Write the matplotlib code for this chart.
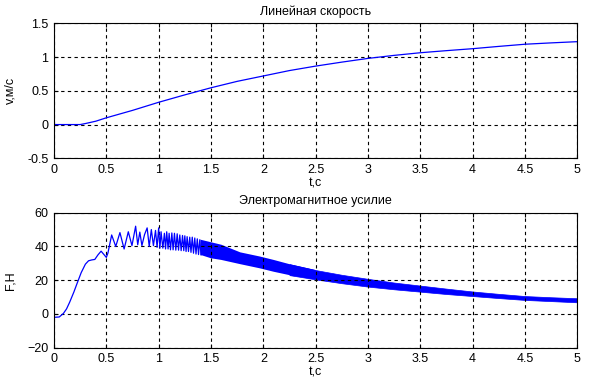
import numpy as np
import matplotlib.pyplot as plt

plt.rcParams['font.family'] = ['Liberation Sans', 'DejaVu Sans']
plt.rcParams['hatch.linewidth'] = 1.3

# linear speed
t_v = [0.0, 0.25, 0.3, 0.4, 0.5, 0.75, 1.0, 1.25, 1.5, 1.75, 2.0, 2.25, 2.5,
       2.75, 3.0, 3.25, 3.5, 3.75, 4.0, 4.25, 4.5, 4.75, 5.0]
v = [0.0, 0.0, 0.015, 0.05, 0.10, 0.21, 0.33, 0.44, 0.545, 0.64, 0.72, 0.80, 0.866,
     0.925, 0.98, 1.025, 1.064, 1.095, 1.124, 1.158, 1.19, 1.21, 1.228]

# electromagnetic force, start-up and resolvable oscillations
t_f = [0.0, 0.05, 0.09, 0.12, 0.15, 0.19, 0.22, 0.26, 0.30, 0.33, 0.36, 0.39,
       0.42, 0.45, 0.48, 0.50, 0.515, 0.551, 0.59, 0.63, 0.67, 0.71, 0.745,
       0.78, 0.80, 0.82, 0.84, 0.865, 0.89, 0.91, 0.93, 0.95, 0.97, 0.985,
       1.0, 1.012, 1.023, 1.04, 1.055, 1.066, 1.077, 1.09, 1.10, 1.113, 1.126,
       1.138, 1.151, 1.164, 1.177, 1.19, 1.202, 1.215, 1.228, 1.24, 1.25,
       1.262, 1.272, 1.285, 1.297, 1.309, 1.321, 1.333, 1.345, 1.357, 1.369,
       1.381, 1.393, 1.405]
F = [-2.0, -1.8, 0.3, 3.0, 7.0, 13.0, 18.0, 24.5, 29.5, 31.5, 32.0, 32.3,
     35.0, 37.2, 35.0, 33.5, 36.0, 46.8, 40.0, 48.2, 38.5, 48.7, 40.5,
     52.0, 41.0, 48.5, 40.5, 47.0, 51.0, 40.0, 50.0, 40.5, 49.5, 39.5,
     51.0, 39.0, 48.7, 39.0, 47.8, 38.5, 48.7, 38.5, 47.8, 38.0, 48.0,
     38.0, 47.8, 37.8, 47.5, 37.8, 46.8, 37.5, 46.5, 37.5, 46.3,
     37.0, 45.8, 37.0, 45.5, 36.5, 45.5, 36.0, 45.0, 35.5, 44.5,
     35.2, 44.0, 35.0]

# dense oscillation band: upper and lower envelope
t_band = [1.4, 1.5, 1.6, 1.78, 1.97, 2.1, 2.25, 2.5, 2.75, 3.0, 3.25,
          3.5, 3.75, 4.0, 4.25, 4.5, 4.75, 5.0]
F_up = [44.0, 42.5, 41.0, 36.5, 34.0, 32.0, 29.5, 26.0, 23.2, 20.8, 18.6,
        16.8, 15.0, 13.3, 11.9, 10.6, 9.9, 9.3]
F_lo = [35.0, 33.0, 32.0, 29.5, 27.0, 25.0, 23.0, 20.5, 18.2, 16.2, 14.6,
        13.2, 11.8, 10.6, 9.4, 8.3, 7.6, 6.9]

blue = (0, 0, 1)
fs = 9
fig = plt.figure(figsize=(5.96, 3.79), dpi=100)
ax1 = fig.add_axes([0.0906, 0.5823, 0.878, 0.3562])
ax2 = fig.add_axes([0.0906, 0.0826, 0.878, 0.3562])

ax1.plot(t_v, v, color=blue, lw=0.9)
ax1.set_ylim(-0.5, 1.5)
ax1.set_yticks([-0.5, 0, 0.5, 1, 1.5])
ax1.set_yticklabels(['-0.5', '0', '0.5', '1', '1.5'])
ax1.set_title('Линейная скорость', fontsize=fs, pad=6)
ax1.set_ylabel('v,м/c', fontsize=fs, labelpad=8)

ax2.plot(t_f, F, color=blue, lw=0.9)
# bars still separate up to about t=2.3, solid band after that
tb = np.array(t_band)
split = tb <= 2.5
ax2.fill_between(tb[split], np.array(F_lo)[split], np.array(F_up)[split],
                 facecolor='white', edgecolor=blue, hatch='|' * 12, lw=0)
ax2.fill_between(tb[tb >= 2.25], np.array(F_lo)[tb >= 2.25], np.array(F_up)[tb >= 2.25],
                 color=blue, lw=0.5)
ax2.set_ylim(-20, 60)
ax2.set_yticks([-20, 0, 20, 40, 60])
ax2.set_title('Электромагнитное усилие', fontsize=fs, pad=6)
ax2.set_ylabel('F,Н', fontsize=fs, labelpad=8)

for ax in (ax1, ax2):
    ax.set_xlim(0, 5)
    ax.set_xticks(np.arange(0, 5.01, 0.5))
    ax.set_xticklabels(['0', '0.5', '1', '1.5', '2', '2.5', '3', '3.5', '4', '4.5', '5'])
    ax.set_xlabel('t,c', fontsize=fs, labelpad=1)
    ax.grid(True, color='black', linestyle=(0, (3, 3)), linewidth=0.8)
    ax.tick_params(direction='in', length=3, top=True, right=True, labelsize=fs, pad=4)
    for s in ax.spines.values():
        s.set_linewidth(0.8)

fig.savefig('out.png', dpi=100)
